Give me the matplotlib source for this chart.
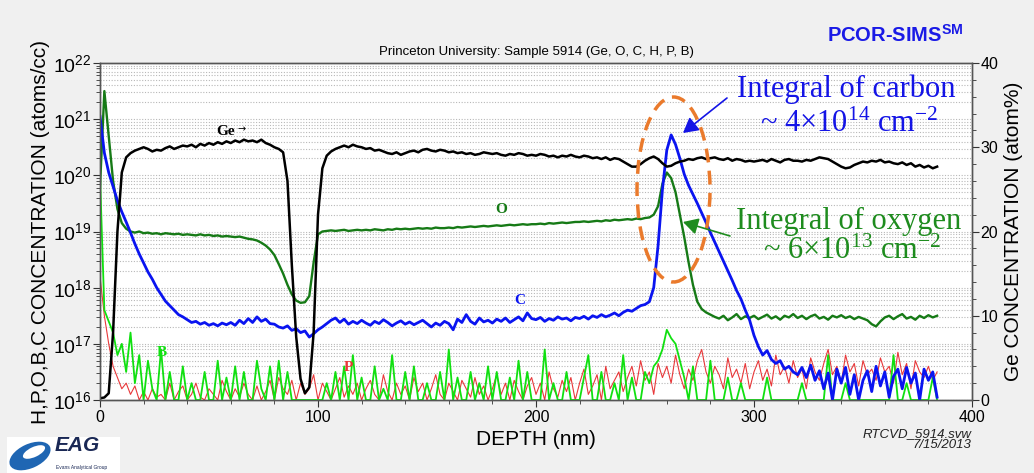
import numpy as np
import matplotlib
matplotlib.use('Agg')
import matplotlib.pyplot as plt
from matplotlib.patches import Ellipse, FancyArrowPatch
from matplotlib.ticker import LogLocator, MultipleLocator, NullFormatter

# depth grid (nm), 2 nm steps from 0 to 384
depth = np.arange(0, 386, 2)

# Ge concentration (atom %), right axis
ge_pct = [
    0.2, 0.3, 0.8, 8.0, 20.0, 27.0, 28.8, 29.3, 29.6, 29.8,
    30.0, 29.8, 29.5, 29.7, 29.6, 29.9, 30.1, 29.8, 30.0, 30.2,
    30.1, 30.3, 30.0, 30.4, 30.2, 30.5, 30.3, 30.6, 30.4, 30.7,
    30.5, 30.8, 30.6, 30.9, 30.7, 30.8, 30.6, 30.9, 30.5, 30.3,
    30.0, 29.8, 29.4, 26.0, 16.0, 7.5, 2.5, 0.8, 1.5, 8.0,
    22.0, 27.5, 29.0, 29.5, 29.8, 30.0, 30.2, 30.0, 30.3, 30.1,
    30.0, 29.8, 29.9, 29.6, 29.7, 29.5, 29.3, 29.2, 29.4, 29.1,
    29.3, 29.5, 29.6, 29.4, 29.7, 29.8, 29.6, 29.5, 29.7, 29.6,
    29.4, 29.5, 29.3, 29.4, 29.2, 29.3, 29.1, 29.2, 29.4, 29.3,
    29.2, 29.3, 29.1, 29.0, 29.2, 29.1, 29.3, 29.2, 29.0, 29.1,
    29.0, 29.2, 29.1, 28.9, 29.0, 28.8, 29.0, 28.9, 29.1, 28.9,
    28.8, 29.0, 28.9, 28.7, 28.8, 28.6, 28.8, 28.5, 28.7, 28.6,
    28.3, 28.0, 27.7, 27.7, 28.0, 28.4, 28.7, 28.9, 28.6, 28.1,
    27.7, 27.8, 28.1, 28.3, 28.4, 28.6, 28.5, 28.7, 28.8, 28.6,
    28.7, 28.8, 28.6, 28.5, 28.7, 28.4, 28.6, 28.5, 28.3, 28.4,
    28.3, 28.4, 28.5, 28.3, 28.6, 28.4, 28.2, 28.5, 28.6, 28.4,
    28.4, 28.3, 28.5, 28.4, 28.6, 28.8, 28.7, 28.6, 28.3, 28.0,
    27.7, 27.5, 27.6, 27.9, 28.1, 28.3, 28.2, 28.4, 28.3, 28.5,
    28.2, 28.3, 28.1, 28.0, 28.2, 27.9, 28.1, 27.7, 27.9, 27.6,
    27.8, 27.5, 27.7,
]

# log10 concentrations (atoms/cc), left axis
o_log = [
    19.8, 21.5, 20.7, 19.9, 19.4, 19.15, 19.05, 19.0, 18.98, 19.0,
    18.97, 18.98, 18.96, 18.97, 18.95, 18.97, 18.96, 18.95, 18.96, 18.94,
    18.95, 18.94, 18.93, 18.95, 18.93, 18.94, 18.92, 18.93, 18.91, 18.92,
    18.91, 18.90, 18.91, 18.89, 18.87, 18.86, 18.84, 18.80, 18.75, 18.68,
    18.58, 18.42, 18.25, 18.05, 17.88, 17.77, 17.73, 17.74, 17.85, 18.45,
    18.95, 19.0, 19.01, 19.02, 19.01, 19.02, 19.03, 19.01, 19.02, 19.03,
    19.02, 19.03, 19.02, 19.04, 19.03, 19.02, 19.04, 19.03, 19.05, 19.04,
    19.05, 19.04, 19.05, 19.06, 19.05, 19.06, 19.05, 19.07, 19.06, 19.06,
    19.07, 19.06, 19.08, 19.07, 19.08, 19.09, 19.08, 19.09, 19.10, 19.09,
    19.10, 19.11, 19.10, 19.11, 19.12, 19.11, 19.12, 19.13, 19.12, 19.13,
    19.13, 19.14, 19.13, 19.15, 19.14, 19.15, 19.16, 19.15, 19.16, 19.17,
    19.17, 19.18, 19.17, 19.18, 19.19, 19.18, 19.20, 19.19, 19.21, 19.20,
    19.21, 19.22, 19.21, 19.23, 19.22, 19.24, 19.25, 19.30, 19.45, 19.85,
    20.05, 19.95, 19.70, 19.30, 18.90, 18.45, 18.05, 17.75, 17.62, 17.56,
    17.52, 17.48, 17.45, 17.50, 17.42, 17.47, 17.53, 17.44, 17.49, 17.46,
    17.50, 17.44, 17.48, 17.52, 17.45, 17.49, 17.43, 17.50, 17.47, 17.53,
    17.46, 17.50, 17.44, 17.49, 17.52, 17.45, 17.48, 17.43, 17.50, 17.47,
    17.51, 17.46, 17.49, 17.44, 17.48, 17.45, 17.42, 17.35, 17.31, 17.40,
    17.47, 17.50, 17.44, 17.49, 17.53, 17.45, 17.48, 17.43, 17.50, 17.46,
    17.51, 17.47, 17.50,
]

c_log = [
    21.05, 20.4, 20.05, 19.8, 19.55, 19.35, 19.17, 18.98, 18.78, 18.6,
    18.44, 18.28, 18.15, 18.0, 17.88, 17.76, 17.68, 17.6, 17.52, 17.48,
    17.43, 17.38, 17.40, 17.35, 17.38, 17.33, 17.36, 17.32, 17.37, 17.34,
    17.38, 17.33, 17.42, 17.36, 17.45, 17.38, 17.48, 17.40, 17.44, 17.36,
    17.35, 17.30, 17.28, 17.32, 17.24, 17.27, 17.20, 17.23, 17.12, 17.18,
    17.25, 17.30, 17.36, 17.42, 17.46, 17.38, 17.44, 17.35, 17.40, 17.36,
    17.42, 17.37, 17.33, 17.40, 17.36, 17.43, 17.38, 17.32, 17.37, 17.41,
    17.35, 17.39, 17.34, 17.38, 17.42, 17.36, 17.30, 17.37, 17.33, 17.40,
    17.36, 17.25, 17.44, 17.38, 17.52, 17.40, 17.35, 17.46, 17.39, 17.42,
    17.37, 17.44, 17.40, 17.46, 17.38, 17.43, 17.48, 17.41, 17.55, 17.45,
    17.43, 17.47, 17.40, 17.45, 17.42, 17.48, 17.44, 17.46, 17.41, 17.47,
    17.45, 17.49, 17.44, 17.50, 17.47, 17.52, 17.48, 17.51, 17.55, 17.50,
    17.56, 17.60, 17.58, 17.63, 17.68, 17.70, 17.75, 18.0, 18.75, 19.75,
    20.45, 20.72, 20.55, 20.30, 20.02, 19.82, 19.66, 19.50, 19.33, 19.16,
    18.98, 18.81, 18.64, 18.47, 18.30, 18.13, 17.95, 17.80, 17.60, 17.42,
    17.15, 16.95, 16.80, 16.88, 16.72, 16.65, 16.70, 16.55, 16.60, 16.50,
    16.45, 16.58, 16.40, 16.62, 16.35, 16.52, 16.20, 16.48, 16.00, 16.55,
    16.30, 16.58, 16.10, 16.45, 16.00, 16.35, 16.52, 16.15, 16.60, 16.25,
    16.50, 16.05, 16.42, 16.55, 16.20, 16.58, 16.30, 16.48, 16.00, 16.55,
    16.35, 16.50, 16.05,
]

b_log = [
    20.0, 17.6, 17.4, 17.2, 16.8, 17.0, 16.5, 17.2, 16.3, 16.8,
    16.0, 16.7, 16.2, 16.0, 16.9, 16.0, 16.5, 16.0, 16.0, 16.6,
    16.0, 16.3, 16.0, 16.0, 16.5, 16.0, 16.0, 16.7, 16.0, 16.4,
    16.0, 16.6, 16.0, 16.5, 16.0, 16.0, 16.7, 16.2, 16.0, 16.6,
    16.0, 16.7, 16.0, 16.5, 16.0, 16.0, 16.0, 16.0, 16.0, 16.0,
    16.0, 16.0, 16.3, 16.0, 16.5, 16.0, 16.6, 16.0, 16.8, 16.0,
    16.4, 16.0, 16.0, 16.6, 16.0, 16.2, 16.0, 16.8, 16.0, 16.0,
    16.5, 16.0, 16.6, 16.0, 16.0, 16.3, 16.0, 16.0, 16.5, 16.0,
    16.9, 16.0, 16.4, 16.0, 16.0, 16.5, 16.0, 16.3, 16.0, 16.6,
    16.0, 16.5, 16.0, 16.0, 16.4, 16.0, 16.7, 16.0, 16.5, 16.0,
    16.0, 16.0, 16.9, 16.0, 16.3, 16.0, 16.0, 16.5, 16.0, 16.0,
    16.0, 16.4, 16.8, 16.0, 16.0, 16.5, 16.0, 16.0, 16.3, 16.0,
    16.8, 16.0, 16.4, 16.0, 16.0, 16.5, 16.3, 16.6, 16.7, 16.9,
    17.25, 17.1, 17.0, 16.7, 16.4, 16.0, 16.6, 16.0, 16.0, 16.0,
    16.7, 16.0, 16.0, 16.0, 16.4, 16.0, 16.0, 16.3, 16.0, 16.0,
    16.0, 16.0, 16.0, 16.4, 16.0, 16.0, 16.0, 16.0, 16.0, 16.0,
    16.0, 16.3, 16.0, 16.0, 16.0, 16.0, 16.0, 16.8, 16.0, 16.0,
    16.0, 16.3, 16.0, 16.0, 16.0, 16.0, 16.0, 16.0, 16.0, 16.0,
    16.0, 16.0, 16.8, 16.0, 16.0, 16.3, 16.0, 16.0, 16.0, 16.0,
    16.0, 16.4, 16.0,
]

p_log = [
    18.2, 17.5, 17.0, 16.6, 16.4, 16.2, 16.3, 16.1, 16.25, 16.0,
    16.15, 16.0, 16.2, 16.05, 16.1, 16.0, 16.3, 16.0, 16.15, 16.25,
    16.0, 16.1, 16.3, 16.05, 16.0, 16.2, 16.1, 16.0, 16.35, 16.15,
    16.0, 16.2, 16.05, 16.3, 16.1, 16.0, 16.25, 16.0, 16.15, 16.35,
    16.0, 16.4, 16.2, 16.1, 16.35, 16.0, 16.3, 16.1, 16.2, 16.45,
    16.0, 16.3, 16.15, 16.0, 16.2, 16.4, 16.05, 16.25, 16.1, 16.3,
    16.0, 16.2, 16.35, 16.1, 16.0, 16.45, 16.15, 16.0, 16.3, 16.1,
    16.25, 16.0, 16.4, 16.15, 16.3, 16.0, 16.2, 16.45, 16.1, 16.0,
    16.3, 16.15, 16.0, 16.35, 16.2, 16.05, 16.4, 16.1, 16.25, 16.0,
    16.2, 16.45, 16.1, 16.3, 16.0, 16.35, 16.15, 16.0, 16.25, 16.4,
    16.1, 16.3, 16.0, 16.5, 16.2, 16.05, 16.35, 16.15, 16.4, 16.0,
    16.3, 16.55, 16.1, 16.25, 16.45, 16.0, 16.6, 16.2, 16.35, 16.5,
    16.15, 16.4, 16.6, 16.25, 16.7, 16.35, 16.5, 16.1, 16.65, 16.4,
    16.6, 16.3, 16.8, 16.45, 16.2, 16.55, 16.35, 16.7, 16.9, 16.5,
    16.3, 16.6, 16.45, 16.2, 16.75, 16.4, 16.55, 16.3, 16.65, 16.2,
    16.5, 16.7, 16.35, 16.55, 16.25, 16.8, 16.45, 16.6, 16.3, 16.7,
    16.4, 16.55, 16.2, 16.75, 16.5, 16.35, 16.65, 16.9, 16.45, 16.6,
    16.3, 16.8, 16.5, 16.65, 16.25, 16.7, 16.45, 16.55, 16.35, 16.75,
    16.5, 16.6, 16.3, 16.85, 16.45, 16.65, 16.2, 16.7, 16.5, 16.4,
    16.6, 16.35, 16.5,
]

W, H = 1034, 473
def fx(px):
    return px / W
def fy(py):
    return 1 - py / H

SANS = 'Liberation Sans'
SERIF = 'Liberation Serif'

fig = plt.figure(figsize=(W / 100, H / 100), dpi=100)
fig.patch.set_facecolor('#f0f0f0')
ax = fig.add_axes([fx(100), fy(400), (972 - 100) / W, (400 - 63) / H])
ax.set_facecolor('white')
ax2 = ax.twinx()

ax.plot(depth, 10 ** np.array(p_log), color='#e8383a', lw=0.8, zorder=2)
ax.plot(depth, 10 ** np.array(b_log), color='#10e010', lw=1.3, zorder=3)
ax.plot(depth, 10 ** np.array(o_log), color='#167a16', lw=1.7, zorder=4)
ax.plot(depth, 10 ** np.array(c_log), color='#0a14f0', lw=2.0, zorder=5)
ax2.plot(depth, ge_pct, color='black', lw=1.8)

ax.set_yscale('log')
ax.set_ylim(1e16, 1e22)
ax.set_xlim(0, 400)
ax2.set_ylim(0, 40)

ax.yaxis.set_major_locator(LogLocator(base=10, numticks=10))
ax.yaxis.set_minor_locator(LogLocator(base=10, subs=np.arange(2, 10), numticks=20))
ax.yaxis.set_minor_formatter(NullFormatter())
ax.xaxis.set_major_locator(MultipleLocator(100))
ax.xaxis.set_minor_locator(MultipleLocator(20))
ax2.yaxis.set_major_locator(MultipleLocator(10))
ax2.yaxis.set_minor_locator(MultipleLocator(2))

ax.grid(True, which='both', axis='y', linestyle=(0, (1, 1.5)), color='#b8b8b8', lw=0.8)
ax.set_axisbelow(True)

for a in (ax, ax2):
    a.tick_params(which='major', direction='out', length=5, width=0.8, colors='#333333',
                  labelcolor='black')
    a.tick_params(which='minor', direction='out', length=3, width=0.6, colors='#333333')
    for s in a.spines.values():
        s.set_color('#555555')
        s.set_linewidth(1.0)

ax.tick_params(axis='y', which='major', labelsize=14, pad=1)
ax.tick_params(axis='x', which='major', labelsize=11.5, pad=2)
ax2.tick_params(axis='y', which='major', labelsize=11.5, pad=1)
for lab in ax.get_xticklabels() + ax.get_yticklabels() + ax2.get_yticklabels():
    lab.set_family(SANS)

ax.set_ylabel('H,P,O,B,C CONCENTRATION (atoms/cc)', family=SANS, fontsize=15, labelpad=2)
ax2.set_ylabel('Ge CONCENTRATION (atom%)', family=SANS, fontsize=15, labelpad=4)
ax.set_xlabel('DEPTH (nm)', family=SANS, fontsize=15, labelpad=4)
ax.set_title('Princeton University: Sample 5914 (Ge, O, C, H, P, B)', family=SANS,
             fontsize=9.5, pad=6)

# series labels
fig.text(fx(226), fy(131), 'Ge', family=SERIF, fontweight='bold', fontsize=11,
         ha='center', va='center', color='black')
fig.text(fx(242), fy(129), '\u2192', family='DejaVu Sans', fontsize=7,
         ha='center', va='center', color='black')
fig.text(fx(501), fy(209), 'O', family=SERIF, fontweight='bold', fontsize=11,
         ha='center', va='center', color='#167a16')
fig.text(fx(520), fy(301), 'C', family=SERIF, fontweight='bold', fontsize=11,
         ha='center', va='center', color='#0a14f0')
fig.text(fx(162), fy(352), 'B', family=SERIF, fontweight='bold', fontsize=11,
         ha='center', va='center', color='#10e010')
fig.text(fx(348), fy(367), 'P', family=SERIF, fontweight='bold', fontsize=11,
         ha='center', va='center', color='#e8383a')

# integral annotations
blue_t = '#1414e6'
green_t = '#1e8c1e'
fig.text(fx(846), fy(97), 'Integral of carbon', family=SERIF, fontsize=22,
         ha='center', va='baseline', color=blue_t)
fig.text(fx(849), fy(132), r'~ 4×10$\mathregular{^{14}}$ cm$\mathregular{^{-2}}$',
         family=SERIF, fontsize=22, ha='center', va='baseline', color=blue_t)
fig.text(fx(849), fy(229), 'Integral of oxygen', family=SERIF, fontsize=22,
         ha='center', va='baseline', color=green_t)
fig.text(fx(852), fy(259), r'~ 6×10$\mathregular{^{13}}$ cm$\mathregular{^{-2}}$',
         family=SERIF, fontsize=22, ha='center', va='baseline', color=green_t)

fig.add_artist(Ellipse((fx(673.5), fy(189.5)), 73 / W, 185 / H, transform=fig.transFigure,
                       fill=False, edgecolor='#ea7a2c', lw=2.5, linestyle=(0, (4, 2.4))))
fig.add_artist(FancyArrowPatch((fx(727), fy(98)), (fx(683), fy(133)), transform=fig.transFigure,
                               arrowstyle='-|>,head_length=9,head_width=5', color='#1414e6',
                               lw=1.2, shrinkA=0, shrinkB=0))
fig.add_artist(FancyArrowPatch((fx(730), fy(236)), (fx(683), fy(222)), transform=fig.transFigure,
                               arrowstyle='-|>,head_length=9,head_width=5', color='#1e8c1e',
                               lw=1.2, shrinkA=0, shrinkB=0))

# header / footer texts
fig.text(fx(827), fy(42), r'PCOR-SIMS$\mathregular{^{SM}}$', family=SANS, fontweight='bold',
         fontsize=14.5, color='#1a1ae6', ha='left', va='baseline')
fig.text(fx(972), fy(437), 'RTCVD_5914.svw', family=SANS, style='italic', fontsize=9.5,
         ha='right', va='baseline', color='#222222')
fig.text(fx(972), fy(448), '7/15/2013', family=SANS, style='italic', fontsize=9.5,
         ha='right', va='baseline', color='#222222')

# EAG logo in its own small white box (pixel units inside, y downwards)
lax = fig.add_axes([fx(7), fy(473), 113 / W, 36 / H])
lax.set_facecolor('white')
lax.set_xlim(0, 113)
lax.set_ylim(36, 0)
lax.set_xticks([])
lax.set_yticks([])
for s in lax.spines.values():
    s.set_visible(False)
lax.add_patch(Ellipse((23, 19), 44, 24, angle=-25, facecolor='#1f66b3', edgecolor='none'))
lax.add_patch(Ellipse((27, 15), 24, 10, angle=-25, facecolor='white', edgecolor='none'))
lax.text(48, 14, 'EAG', family=SANS, fontweight='bold', style='italic', fontsize=15,
         color='#1a2855', ha='left', va='baseline')
lax.text(49, 32, 'Evans Analytical Group', family=SANS, fontsize=3.5,
         color='#1a2855', ha='left', va='baseline')

fig.savefig('out.png', dpi=100, facecolor=fig.get_facecolor())
